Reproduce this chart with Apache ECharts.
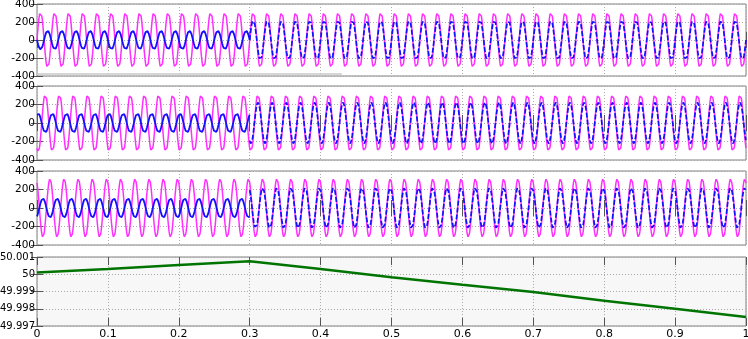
<!DOCTYPE html>
<html>
<head>
<meta charset="utf-8">
<script src="https://cdn.jsdelivr.net/npm/echarts@6/dist/echarts.min.js"></script>
<style>
html, body { margin: 0; background: #fff; }
#chart { width: 748px; height: 339px; }
</style>
</head>
<body>
<div id="chart"></div>
<script>
// values
const timeTicks = [0, 0.1, 0.2, 0.3, 0.4, 0.5, 0.6, 0.7, 0.8, 0.9, 1]
const voltTicks = [-400, -200, 0, 200, 400]
const freqTicks = [49.997, 49.998, 49.999, 50, 50.001]

// three phase panels: 50 Hz waves, step at t = 0.3 s
const waveHz = 50
const stepTime = 0.3
const phaseDeg = [0, -120, 120]
const magentaAmp = [315, 315, 315]
const blueAmpBefore = [-105, -105, -105]
const blueAmpAfter = [222, 222, 222]
const greyBar = [0, 0.43, -370]

// bottom panel: frequency
const freqTime = [0, 0.1, 0.2, 0.3, 0.4, 0.5, 0.6, 0.7, 0.8, 0.9, 1]
const freqValue = [50.0001, 50.0003, 50.00053, 50.00075, 50.0003, 49.99983, 49.99939, 49.99897, 49.99846, 49.998, 49.99752]

const dt = 0.0002

function wave(amp, ph, from, to) {
    const out = []
    const n = Math.round((to - from) / dt)
    for (let i = 0; i <= n; i++) {
        const t = from + i * dt
        out.push([t, amp * Math.sin(2 * Math.PI * waveHz * t + ph * Math.PI / 180)])
    }
    return out
}

const tops = [4, 86, 171, 257]
const heights = [72, 74, 74, 69]
const tickCol = '#555'
const gridCol = '#aaa'
const font = 'DejaVu Sans'

const grid = []
const xAxis = []
const yAxis = []
const series = []

for (let p = 0; p < 4; p++) {
    const last = p === 3
    grid.push({
        left: 37, right: 2, top: tops[p], height: heights[p],
        outerBoundsMode: 'none', containLabel: false,
        show: true, borderColor: '#808080', borderWidth: 1,
        backgroundColor: last ? '#f7f7f7' : '#fff'
    })
    const xBase = {
        type: 'value', gridIndex: p, min: timeTicks[0], max: timeTicks[timeTicks.length - 1],
        interval: 0.1,
        axisLine: { show: false },
        axisTick: { show: true, inside: true, length: 8, lineStyle: { color: tickCol, width: 1 } }
    }
    xAxis.push(Object.assign({}, xBase, {
        position: 'bottom',
        axisLabel: {
            show: last, color: '#000', fontFamily: font, fontSize: 11, margin: 3,
            formatter: v => String(+v.toFixed(1))
        },
        splitLine: { show: true, lineStyle: { color: gridCol, type: [1, 2] } }
    }))
    xAxis.push(Object.assign({}, xBase, {
        position: 'top', axisLabel: { show: false }, splitLine: { show: false }
    }))
    const ticks = last ? freqTicks : voltTicks
    const yBase = {
        type: 'value', gridIndex: p, min: ticks[0], max: ticks[ticks.length - 1],
        interval: last ? 0.001 : 200,
        scale: true,
        axisLine: { show: false },
        axisTick: { show: true, inside: true, length: 6, lineStyle: { color: tickCol, width: 1 } }
    }
    yAxis.push(Object.assign({}, yBase, {
        position: 'left',
        axisLabel: {
            show: true, color: '#000', fontFamily: font, fontSize: last ? 10 : 10.5, margin: 2,
            showMinLabel: true, showMaxLabel: true,
            formatter: v => String(+v.toFixed(3))
        },
        splitLine: { show: true, lineStyle: { color: gridCol, type: [1, 2] } }
    }))
    yAxis.push(Object.assign({}, yBase, {
        position: 'right', axisLabel: { show: false }, splitLine: { show: false }
    }))
}

for (let p = 0; p < 3; p++) {
    const xi = p * 2, yi = p * 2
    const mag = {
        type: 'line', xAxisIndex: xi, yAxisIndex: yi, showSymbol: false, silent: true,
        data: wave(magentaAmp[p], phaseDeg[p], 0, 1),
        lineStyle: { color: '#ff30ff', width: 1.5 }
    }
    if (p === 0) {
        mag.markLine = {
            silent: true, symbol: 'none', label: { show: false },
            lineStyle: { color: '#c8c8c8', width: 1.5, type: 'solid' },
            data: [[{ coord: [greyBar[0], greyBar[2]] }, { coord: [greyBar[1], greyBar[2]] }]]
        }
    }
    series.push(mag)
    series.push({
        type: 'line', xAxisIndex: xi, yAxisIndex: yi, showSymbol: false, silent: true,
        data: wave(blueAmpBefore[p], phaseDeg[p], 0, stepTime),
        lineStyle: { color: '#1010ff', width: 1.8 }
    })
    series.push({
        type: 'line', xAxisIndex: xi, yAxisIndex: yi, showSymbol: false, silent: true,
        data: wave(blueAmpAfter[p], phaseDeg[p], stepTime, 1),
        lineStyle: { color: '#1010ff', width: 1.7, type: [5, 2] }
    })
}

series.push({
    type: 'line', xAxisIndex: 6, yAxisIndex: 6, showSymbol: false, silent: true,
    data: freqTime.map((t, i) => [t, freqValue[i]]),
    lineStyle: { color: '#007400', width: 2.5 }
})

const chart = echarts.init(document.getElementById('chart'))
chart.setOption({
    animation: false,
    grid, xAxis, yAxis, series
})
window.addEventListener('resize', () => chart.resize())
</script>
</body>
</html>
